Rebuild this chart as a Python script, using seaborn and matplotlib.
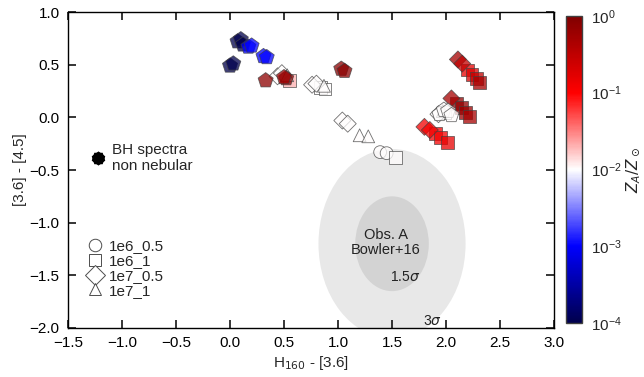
import numpy as np
import pandas as pd
import matplotlib
matplotlib.use("Agg")
import matplotlib.pyplot as plt
import seaborn as sns
from matplotlib.colors import LogNorm
from matplotlib.patches import Ellipse
from matplotlib.lines import Line2D
import matplotlib.cm as cm

# ---- data ----
bh_x = [0.00, 0.03, 0.07, 0.10, 0.12, 0.17, 0.20, 0.31, 0.34, 0.33, 0.52, 0.50, 1.03, 1.06, 1.94, 1.98, 2.02, 2.05]
bh_y = [0.49, 0.51, 0.72, 0.74, 0.69, 0.67, 0.68, 0.58, 0.57, 0.35, 0.37, 0.38, 0.46, 0.44, 0.03, 0.07, 0.06, 0.02]
bh_z = [1e-4, 1e-4, 1e-4, 1e-4, 1e-4, 1e-3, 1e-3, 1e-3, 1e-3, 0.8, 0.8, 0.6, 0.8, 0.8, 0.01, 0.01, 0.01, 0.01]

d_x = [0.44, 0.48, 0.76, 0.80, 1.04, 1.09, 1.93, 2.11, 2.15, 2.05, 1.80, 1.85]
d_y = [0.39, 0.42, 0.31, 0.32, -0.03, -0.06, 0.03, 0.55, 0.51, 0.18, -0.09, -0.12]
d_z = [0.01, 0.01, 0.01, 0.01, 0.01, 0.01, 0.01, 0.5, 0.3, 0.5, 0.12, 0.12]

s_x = [0.55, 0.84, 0.88, 1.53, 2.20, 2.24, 2.28, 2.31, 2.10, 2.14, 2.18, 2.22, 1.90, 1.95, 2.01, 1.99]
s_y = [0.35, 0.28, 0.27, -0.38, 0.45, 0.41, 0.37, 0.33, 0.13, 0.09, 0.05, 0.01, -0.15, -0.19, -0.24, 0.05]
s_z = [0.02, 0.01, 0.01, 0.01, 0.15, 0.2, 0.3, 0.5, 0.7, 0.7, 0.6, 0.5, 0.12, 0.12, 0.15, 0.01]

t_x = [0.53, 0.87, 1.20, 1.28, 1.97]
t_y = [0.40, 0.30, -0.17, -0.18, 0.06]
t_z = [0.01, 0.01, 0.01, 0.01, 0.01]

c_x = [1.39, 1.45]
c_y = [-0.33, -0.34]
c_z = [0.01, 0.01]

obs_center = (1.5, -1.2)
obs_sigma = (0.227, 0.30)

model_labels = ["1e6_0.5", "1e6_1", "1e7_0.5", "1e7_1"]

# ---- style ----
sns.set_theme(style="ticks")
plt.rcParams['font.family'] = ['Liberation Sans', 'DejaVu Sans']
plt.rcParams['mathtext.fontset'] = 'dejavusans'

fig = plt.figure(figsize=(6.44, 3.77), dpi=100)
ax = fig.add_axes([0.1056, 0.130, 0.7547, 0.838])
cax = fig.add_axes([0.879, 0.143, 0.025, 0.815])

norm = LogNorm(1e-4, 1)
cmap = plt.get_cmap('seismic')

# observation ellipses
ax.add_patch(Ellipse(obs_center, 2 * 3 * obs_sigma[0], 2 * 3 * obs_sigma[1],
                     facecolor='#e8e8e8', edgecolor='none', zorder=0))
ax.add_patch(Ellipse(obs_center, 2 * 1.5 * obs_sigma[0], 2 * 1.5 * obs_sigma[1],
                     facecolor='#d3d3d3', edgecolor='none', zorder=0))
ax.text(obs_center[0] - 0.06, obs_center[1] + 0.01, "Obs. A\nBowler+16", ha='center', va='center',
        fontsize=10.5, color='#222222', linespacing=1.1)
ax.text(obs_center[0] + 0.12, obs_center[1] - 0.32, r"1.5$\sigma$", ha='center', va='center',
        fontsize=10, color='#222222')
ax.text(obs_center[0] + 0.37, obs_center[1] - 0.73, r"3$\sigma$", ha='center', va='center',
        fontsize=10, color='#222222')

def draw(xs, ys, zs, marker, size):
    df = pd.DataFrame({"x": xs, "y": ys, "z": zs})
    sns.scatterplot(data=df, x="x", y="y", hue="z", palette=cmap, hue_norm=norm,
                    marker=marker, s=size, alpha=0.75, edgecolor='0.25', linewidth=0.6,
                    legend=False, ax=ax, zorder=3)

draw(c_x, c_y, c_z, 'o', 85)
draw(s_x, s_y, s_z, 's', 85)
draw(d_x, d_y, d_z, 'D', 75)
draw(t_x, t_y, t_z, '^', 85)
draw(bh_x, bh_y, bh_z, 'p', 130)

ax.set_xlim(-1.5, 3.0)
ax.set_ylim(-2.0, 1.0)
ax.set_xticks(np.arange(-1.5, 3.01, 0.5))
ax.set_yticks(np.arange(-2.0, 1.01, 0.5))
ax.set_xlabel(r"H$_{160}$ - [3.6]", fontsize=11, labelpad=3)
ax.set_ylabel("[3.6] - [4.5]", fontsize=11, labelpad=2)
for sp in ax.spines.values():
    sp.set_visible(True)
    sp.set_color('black')
    sp.set_linewidth(1.0)
ax.xaxis.set_ticks_position('both')
ax.yaxis.set_ticks_position('both')
ax.tick_params(axis='both', which='major', direction='in', length=6, width=1.1,
               labelsize=11, colors='black', pad=6, zorder=10)
ax.set_axisbelow(False)

# legends
handles = [Line2D([], [], marker=m, linestyle='none', markerfacecolor='white',
                  markeredgecolor='0.3', markersize=ms, markeredgewidth=0.7)
           for m, ms in zip(['o', 's', 'D', '^'], [9, 9, 10, 9])]
leg1 = ax.legend(handles, model_labels, loc='upper left', bbox_to_anchor=(0.025, 0.30),
                 frameon=False, fontsize=11, handletextpad=0.3, labelspacing=0.05,
                 handlelength=1.2, borderaxespad=0)
ax.add_artist(leg1)
bh_a = Line2D([], [], marker=(5, 0, 0), linestyle='none', markerfacecolor='black',
              markeredgecolor='black', markersize=9)
bh_b = Line2D([], [], marker=(5, 0, 36), linestyle='none', markerfacecolor='black',
              markeredgecolor='black', markersize=9)
leg2 = ax.legend([(bh_a, bh_b)], ["BH spectra\nnon nebular"], loc='upper left',
                 bbox_to_anchor=(0.03, 0.605), frameon=False, fontsize=11,
                 handletextpad=0.3, handlelength=1.2, borderaxespad=0)

# colorbar
sm = cm.ScalarMappable(norm=norm, cmap=cmap)
cb = fig.colorbar(sm, cax=cax)
cb.outline.set_edgecolor('0.25')
cb.outline.set_linewidth(1.0)
cax.tick_params(which='major', length=0, labelsize=11, pad=6)
cax.tick_params(which='minor', length=0)
cb.set_label(r"$Z_A/Z_\odot$", fontsize=11, labelpad=2)

fig.savefig("out.png", dpi=100)
